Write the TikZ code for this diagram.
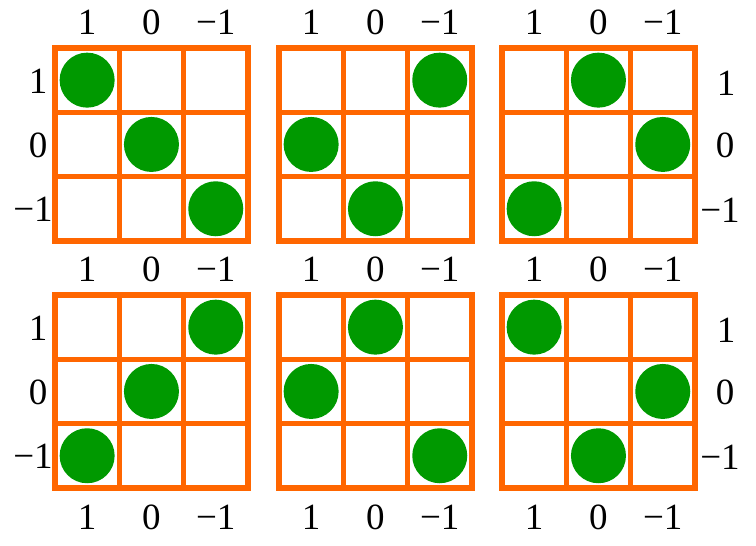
\documentclass[tikz,border=0pt]{standalone}
\usepackage{fontspec}
\setmainfont{Liberation Serif}
\definecolor{cellorange}{RGB}{255,102,0}
\definecolor{beadgreen}{RGB}{0,153,0}
\newcommand{\cs}{64.3}
\begin{document}
\begin{tikzpicture}[x=1pt,y=-1pt,
	cellline/.style={line width=5.5pt,color=cellorange,line join=miter},
	bead/.style={circle,fill=beadgreen,minimum size=55pt,inner sep=0pt},
	lab/.style={font=\fontsize{37}{40}\selectfont,inner sep=0pt}]
	\useasboundingbox (0,0) rectangle (756,546);
	
	% grids and beads (column of the bead in each row)
	\foreach \g/\gx/\gy/\pa/\pb/\pc in {1/55/48/1/2/3, 2/279/48/3/1/2, 3/502/48/2/3/1,
		4/55/295/3/2/1, 5/279/295/2/1/3, 6/502/295/1/3/2} {
		\begin{scope}[shift={(\gx,\gy)}]
			\foreach \i in {0,1,2}
				\foreach \j in {0,1,2}
					\draw[cellline] (\i*\cs,\j*\cs) rectangle ++(\cs,\cs);
			\node[bead] (b\g-1) at ({(\pa-.5)*\cs},{.5*\cs}) {};
			\node[bead] (b\g-2) at ({(\pb-.5)*\cs},{1.5*\cs}) {};
			\node[bead] (b\g-3) at ({(\pc-.5)*\cs},{2.5*\cs}) {};
			\foreach \lab [count=\k] in {1,0,−1}
				\node[lab] (top\g-\k) at ({(\k-.5)*\cs},-26) {\lab};
		\end{scope}
	}
	
	% labels below
	\foreach \g/\gx in {4/55, 5/279, 6/502}
		\foreach \lab [count=\k] in {1,0,−1}
			\node[lab] (bot\g-\k) at ({\gx+(\k-.5)*\cs},517) {\lab};
	
	% labels left and right
	\foreach \gy [count=\r] in {48,295} {
		\node[lab] (left\r-1) at (38,{\gy+.5*\cs+1}) {1};
		\node[lab] (left\r-2) at (38,{\gy+1.5*\cs+1}) {0};
		\node[lab] (left\r-3) at (33,{\gy+2.5*\cs+1}) {−1};
		\node[lab] (right\r-1) at (726,{\gy+.5*\cs+3}) {1};
		\node[lab] (right\r-2) at (725,{\gy+1.5*\cs+1}) {0};
		\node[lab] (right\r-3) at (720,{\gy+2.5*\cs+2}) {−1};
	}
\end{tikzpicture}
\end{document}
